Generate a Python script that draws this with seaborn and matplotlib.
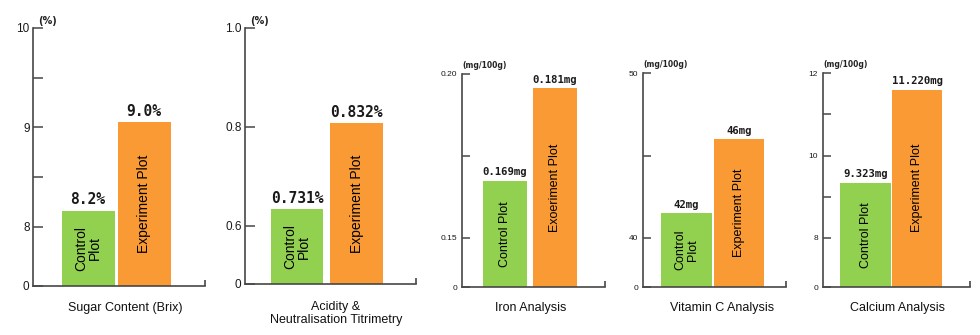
import numpy as np
import pandas as pd
import matplotlib
matplotlib.use("Agg")
import matplotlib.pyplot as plt
import seaborn as sns

# ---------------- data ----------------
categories = ["Control Plot", "Experiment Plot"]
titles = ["Sugar Content (Brix)", "Acidity &\nNeutralisation Titrimetry",
          "Iron Analysis", "Vitamin C Analysis", "Calcium Analysis"]
units = ["(%)", "(%)", "(mg/100g)", "(mg/100g)", "(mg/100g)"]

sugar = [8.16, 9.05]
acidity = [0.634, 0.808]
iron = [0.1675, 0.1957]
vitamin_c = [41.5, 46.0]
calcium = [9.34, 11.6]
series = [sugar, acidity, iron, vitamin_c, calcium]

value_labels = [["8.2%", "9.0%"], ["0.731%", "0.832%"], ["0.169mg", "0.181mg"],
                ["42mg", "46mg"], ["9.323mg", "11.220mg"]]
bar_texts = [["Control\nPlot", "Experiment Plot"], ["Control\nPlot", "Experiment Plot"],
             ["Control Plot", "Exoeriment Plot"], ["Control\nPlot", "Experiment Plot"],
             ["Control Plot", "Experiment Plot"]]

break_low = [8, 0.6, 0.15, 40, 8]
y_max = [10, 1.0, 0.20, 50, 12]
major_ticks = [[0, 8, 9, 10], [0, 0.6, 0.8, 1.0], [0, 0.15, 0.20], [0, 40, 50], [0, 8, 10, 12]]
tick_labels = [["0", "8", "9", "10"], ["0", "0.6", "0.8", "1.0"], ["0", "0.15", "0.20"],
               ["0", "40", "50"], ["0", "8", "10", "12"]]
minor_ticks = [[8.5, 9.5], [], [0.175], [45], [9, 11]]

# ---------------- layout / style ----------------
W, H = 980, 335
# pixel rects: left, right, top, bottom
rects = [(33, 205, 28, 286), (245, 416, 28, 284), (462, 605, 74, 287),
         (643, 786, 73, 287), (823, 970, 73, 287)]
gap_px = [59.5, 58, 49, 49, 49]
bar_centers = [(88, 144), (297, 356.5), (505, 555), (686.5, 739), (865.5, 917)]
bar_widths_px = [53, 52.5, 44, 50.5, 50.5]
title_pos = [(125, 308), (336, 313.5), (531, 308), (722, 308), (897, 308)]
big = [True, True, False, False, False]

green = "#92d050"
orange = "#f99a34"
axis_col = "#474747"

sns.set_style("white")
plt.rcParams["font.family"] = ["Liberation Sans", "DejaVu Sans"]

fig = plt.figure(figsize=(W / 100, H / 100), dpi=100)


def make_scale(lo, G):
    def fwd(v):
        v = np.asarray(v, dtype=float)
        return np.where(v < lo, v / lo * G, G + (v - lo))

    def inv(u):
        u = np.asarray(u, dtype=float)
        return np.where(u < G, u / G * lo, lo + (u - G))
    return fwd, inv


for i in range(5):
    l, r, t, b = rects[i]
    ax = fig.add_axes([l / W, (H - b) / H, (r - l) / W, (b - t) / H])
    df = pd.DataFrame({"plot": categories, "value": series[i]})
    c0, c1 = bar_centers[i]
    spacing = c1 - c0
    sns.barplot(data=df, x="plot", y="value", hue="plot", palette=[green, orange],
                width=bar_widths_px[i] / spacing, saturation=1, legend=False,
                linewidth=0, ax=ax, zorder=1)
    ax.set_xlim(-(c0 - l) / spacing, 1 + (r - c1) / spacing)

    lo, hi = break_low[i], y_max[i]
    frac = gap_px[i] / (b - t)
    G = frac / (1 - frac) * (hi - lo)
    fwd, inv = make_scale(lo, G)
    ax.set_yscale("function", functions=(fwd, inv))
    ax.set_ylim(0, hi)
    ax.set_yticks(major_ticks[i])
    ax.set_yticklabels(tick_labels[i])
    ax.set_yticks(minor_ticks[i], minor=True)
    ax.set_xticks([])
    ax.set_xlabel("")
    ax.set_ylabel("")

    for s in ["top", "right"]:
        ax.spines[s].set_visible(False)
    for s in ["left", "bottom"]:
        ax.spines[s].set_color(axis_col)
        ax.spines[s].set_linewidth(1.2)
        ax.spines[s].set_zorder(3)

    tl = 7 if big[i] else 6
    ax.tick_params(axis="y", which="both", left=True, direction="in", length=tl, width=1.1,
                   color=axis_col, pad=2.5 if big[i] else 3.5,
                   labelsize=8.5 if big[i] else 6, labelcolor="#1a1a1a")

    # small upward tick at right end of x axis
    ax.plot([1, 1], [0, 6 / (b - t)], transform=ax.transAxes, color=axis_col,
            lw=1.2, clip_on=False, solid_capstyle="butt")

    # unit label
    ax.annotate(units[i], xy=(0, 1), xycoords="axes fraction",
                xytext=(4 if big[i] else 0, 5 if big[i] else 6), textcoords="offset points",
                ha="left", va="center", fontsize=7 if big[i] else 5.5,
                fontweight="bold", color="#222222", family="DejaVu Sans")

    # value labels and inside texts
    top_u = fwd(hi)
    for j in range(2):
        h = series[i][j]
        ax.annotate(value_labels[i][j], xy=(j, h), xycoords="data",
                    xytext=(0, 2.5), textcoords="offset points",
                    ha="center", va="bottom", fontsize=10.5 if big[i] else 7.7,
                    fontweight="bold", family="DejaVu Sans Mono", color="#1a1a1a")
        ymid = float(fwd(h)) / float(top_u) / 2
        ax.text(j, ymid, bar_texts[i][j], transform=ax.get_xaxis_transform(),
                rotation=90, ha="center", va="center",
                fontsize=10 if big[i] else 9, color="black", linespacing=1.0,
                zorder=4)

    fig.text(title_pos[i][0] / W, 1 - title_pos[i][1] / H, titles[i],
             ha="center", va="center", fontsize=9, color="#111111",
             linespacing=1.05)

fig.savefig("out.png", dpi=100)
